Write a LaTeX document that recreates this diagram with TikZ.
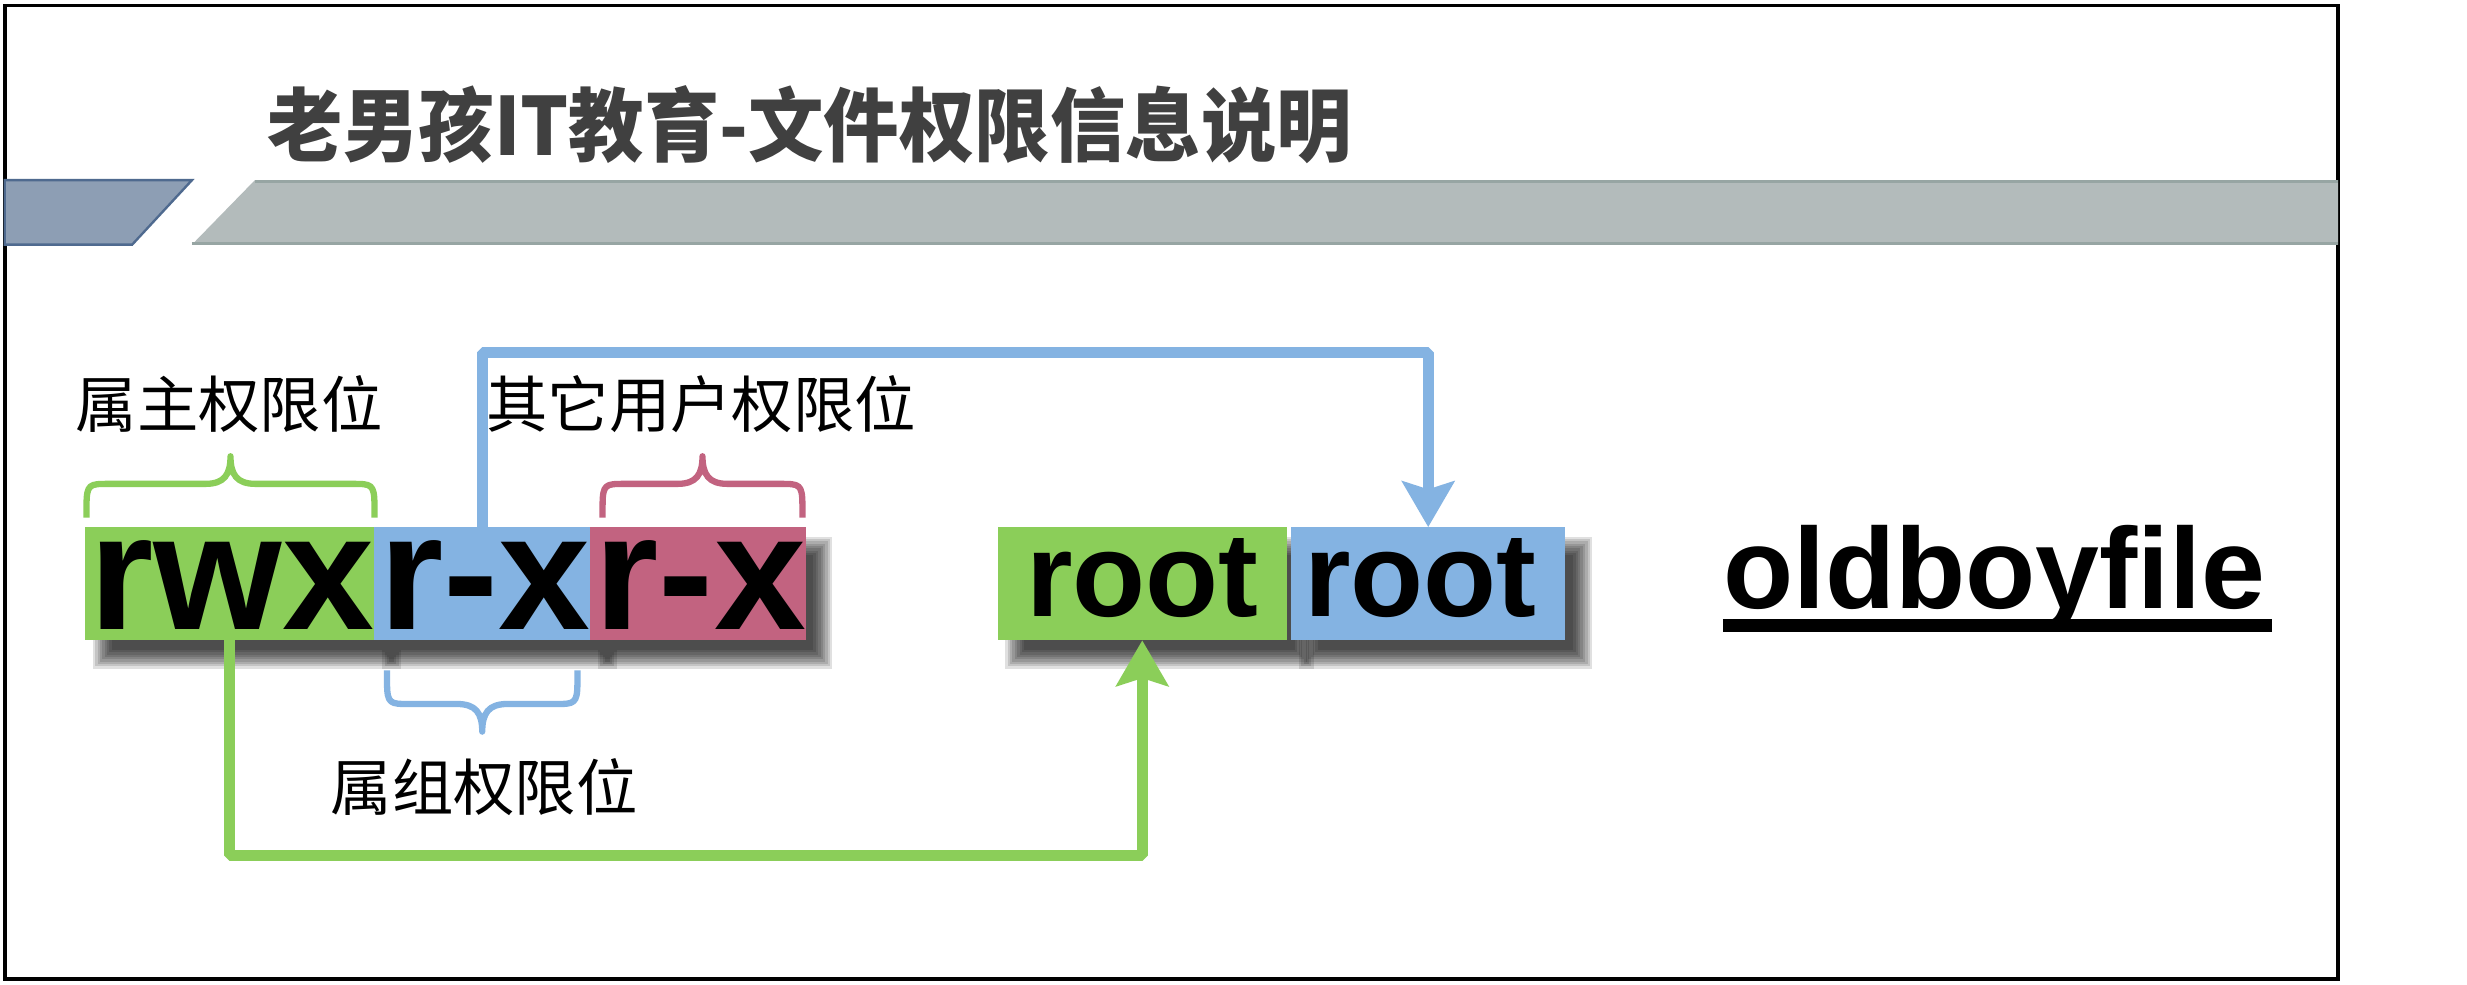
\documentclass[tikz,border=0pt]{standalone}
\usepackage{fontspec}
\usetikzlibrary{arrows.meta,calc}
\newfontfamily\cjk{Noto Sans CJK SC}
\newfontfamily\arial{Liberation Sans}
\definecolor{cgreen}{RGB}{139,206,89}
\definecolor{cblue}{RGB}{132,179,226}
\definecolor{cpink}{RGB}{194,99,128}
\definecolor{parafill}{RGB}{141,158,180}
\definecolor{paradraw}{RGB}{79,106,143}
\definecolor{barfill}{RGB}{179,187,187}
\definecolor{bardraw}{RGB}{151,165,163}
\definecolor{titlegray}{RGB}{64,64,64}
\pgfdeclarelayer{back}
\pgfdeclarelayer{shade}
\pgfsetlayers{back,shade,main}
\newcommand{\boxshadow}[1]{%
  \foreach \e in {-6,-4.5,...,6}{%
    \fill[black,opacity=0.12] ($(#1.south west)+({11-(\e)},{-12-(\e)})$) rectangle ($(#1.north east)+({11+(\e)},{-12+(\e)})$);
  }}
\newcommand{\curlybrace}[4]{%
  \path (#2) coordinate (cbL) (#3) coordinate (cbR) ($(cbL)!0.5!(cbR)$) coordinate (cbM);
  \draw[#1] (cbL) -- ($(cbL)+(0,{0.2*(#4)})$)
    .. controls ($(cbL)+(0,{0.55*(#4)})$) and ($(cbL)+(2,{0.55*(#4)})$) .. ($(cbL)+(14,{0.55*(#4)})$)
    -- ($(cbM)+(-16,{0.55*(#4)})$)
    .. controls ($(cbM)+(-4,{0.55*(#4)})$) and ($(cbM)+(0,{0.7*(#4)})$) .. ($(cbM)+(0,{#4})$)
    .. controls ($(cbM)+(0,{0.7*(#4)})$) and ($(cbM)+(4,{0.55*(#4)})$) .. ($(cbM)+(16,{0.55*(#4)})$)
    -- ($(cbR)+(-14,{0.55*(#4)})$)
    .. controls ($(cbR)+(-2,{0.55*(#4)})$) and ($(cbR)+(0,{0.55*(#4)})$) .. ($(cbR)+(0,{0.2*(#4)})$)
    -- (cbR);}
\begin{document}
\begin{tikzpicture}[x=1pt,y=1pt,
  conn/.style={line width=7pt,line join=bevel},
  arrowtip/.style={-{Stealth[length=29pt,width=33pt,inset=5pt]}},
  bracestyle/.style={line width=4pt,line join=round},
  permbox/.style={inner sep=0pt,outer sep=0pt,minimum height=72pt,anchor=north west,text height=58.8pt,text depth=0pt,font=\arial\bfseries\fontsize{105}{105}\selectfont},
  ownbox/.style={inner sep=0pt,outer sep=0pt,minimum height=72pt,anchor=north west,text height=42pt,text depth=0pt,font=\arial\bfseries\fontsize{76}{76}\selectfont},
  lbl/.style={inner sep=0pt,anchor=base west,font=\cjk\fontsize{39}{39}\selectfont}]
\useasboundingbox (0,0) rectangle (1568,-626);
\begin{pgfonlayer}{back}
\fill[white] (0,0) rectangle (1568,-626);
\end{pgfonlayer}
% frame
\draw[line width=2.5pt] (3,-3.5) rectangle (1486,-622);
% header band
\filldraw[fill=parafill,draw=paradraw,line width=1.5pt] (3,-114.5) -- (122,-114.5) -- (84,-155.5) -- (3,-155.5) -- cycle;
\fill[barfill] (162,-114.5) -- (1486,-114.5) -- (1486,-155.5) -- (122,-155.5) -- cycle;
\draw[bardraw,line width=2pt] (162,-115.5) -- (1486,-115.5) (122,-154.5) -- (1486,-154.5);
\node[anchor=base west,inner sep=0pt,text=titlegray,font=\cjk\bfseries\fontsize{51}{51}\selectfont,xscale=0.94] (title) at (170,-99) {老男孩IT教育-文件权限信息说明};
% permission boxes
\node[permbox,fill=cgreen] (rwx) at (54,-335) {\makebox[184pt][l]{\hspace{3pt}rwx}};
\node[permbox,fill=cblue] (rb) at (rwx.north east) {\makebox[137pt][l]{\hspace{3pt}r-x}};
\node[permbox,fill=cpink] (pb) at (rb.north east) {\makebox[137pt][l]{\hspace{3pt}r-x}};
% owner / group boxes
\node[ownbox,fill=cgreen] (rootG) at (634,-335) {\makebox[184pt][c]{root}};
\node[ownbox,fill=cblue] (rootB) at (820.5,-335) {\makebox[174.5pt][c]{root\hspace{10pt}}};
% file name
\node[anchor=base west,inner sep=0pt,font=\arial\bfseries\fontsize{73}{73}\selectfont] (ofile) at (1095,-386.5) {oldboyfile};
\draw[line width=8pt] ([yshift=-11pt]ofile.base west) -- ([yshift=-11pt,xshift=4pt]ofile.base east);
% shadows
\begin{pgfonlayer}{shade}
\boxshadow{rwx}\boxshadow{rb}\boxshadow{pb}\boxshadow{rootG}\boxshadow{rootB}
\end{pgfonlayer}
% braces
\curlybrace{bracestyle,cgreen}{$(rwx.north west)+(1,6)$}{$(rwx.north east)+(0,6)$}{39}
\curlybrace{bracestyle,cpink}{$(pb.north west)+(8,6)$}{$(pb.north east)+(-2,6)$}{39}
\curlybrace{bracestyle,cblue}{$(rb.south west)+(8,-19)$}{$(rb.south east)+(-8,-19)$}{-39}
% labels
\node[lbl] (lblown) at (48,-271.5) {属主权限位};
\node[lbl] (lblother) at (309,-271.5) {其它用户权限位};
\node[lbl] (lblgroup) at (210,-515) {属组权限位};
% connectors
\draw[conn,cblue,arrowtip] (rb.north) -- ++(0,111) -| (rootB.north);
\draw[conn,cgreen,arrowtip] (rwx.south) -- ++(0,-137) -| (rootG.south);
\end{tikzpicture}
\end{document}
